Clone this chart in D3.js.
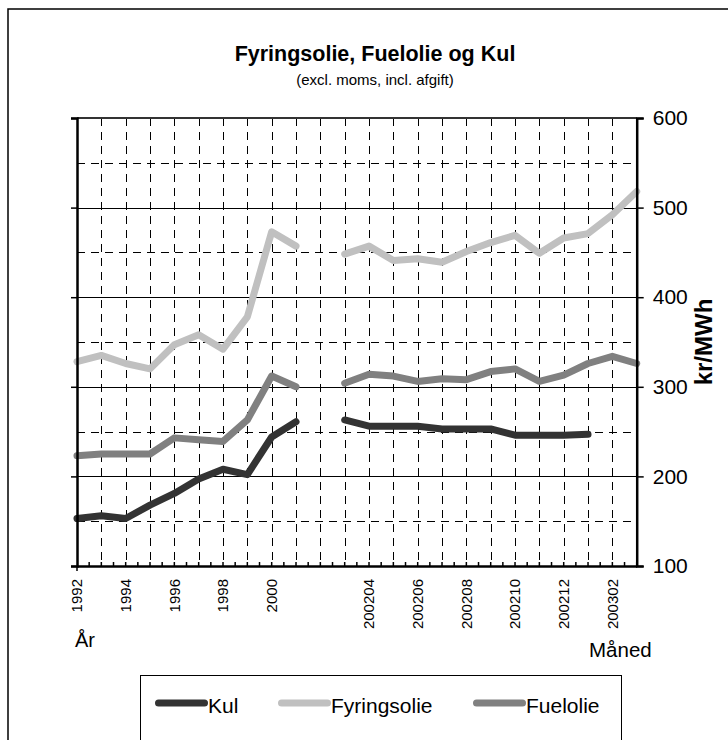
<!DOCTYPE html>
<html>
<head>
<meta charset="utf-8">
<script src="https://cdn.jsdelivr.net/npm/d3@7"></script>
<style>
  html, body { margin: 0; padding: 0; background: #fff; }
  svg { display: block; font-family: "Liberation Sans", Arial, sans-serif; }
</style>
</head>
<body>
<svg id="chart" width="728" height="740"></svg>
<script>
// ---- data ----
const categories = ["1992","1993","1994","1995","1996","1997","1998","1999","2000","2001","",
  "200203","200204","200205","200206","200207","200208","200209","200210","200211","200212","200301","200302","200303"];
const kul =         [153,156,153,168,181,197,208,202,244,261,null,263,256,256,256,253,253,253,246,246,246,247,null,null];
const fyringsolie = [328,335,326,320,347,358,342,378,473,457,null,448,457,441,443,439,451,461,469,449,466,471,492,518];
const fuelolie =    [223,225,225,225,243,241,239,263,312,300,null,304,314,312,306,309,308,317,320,306,313,326,334,326];
const yTicks = [100,200,300,400,500,600];
const yMinorTicks = [150,250,350,450,550];
const series = [
  {name: "Kul", values: kul, color: "#333333"},
  {name: "Fyringsolie", values: fyringsolie, color: "#c0c0c0"},
  {name: "Fuelolie", values: fuelolie, color: "#808080"}
];

(function () {
const svg = d3.select("#chart");
const pL = 77, pR = 636.7, pT = 118, pB = 566;

// outer frame
svg.append("rect").attr("x", 8).attr("y", 9).attr("width", 760).attr("height", 760)
  .attr("fill", "#fff").attr("stroke", "#000").attr("stroke-width", 1.5);

const x = d3.scalePoint().domain(d3.range(categories.length)).range([pL, pR]);
const y = d3.scaleLinear().domain([100, 600]).range([pB, pT]);

// title
svg.append("text").attr("x", 375).attr("y", 61).attr("text-anchor", "middle")
  .attr("font-size", 21.5).attr("font-weight", "bold").text("Fyringsolie, Fuelolie og Kul");
svg.append("text").attr("x", 375).attr("y", 85).attr("text-anchor", "middle")
  .attr("font-size", 15).text("(excl. moms, incl. afgift)");

// grid
const grid = svg.append("g");
grid.selectAll("line.vg").data(d3.range(1, categories.length - 1)).join("line")
  .attr("x1", d => Math.round(x(d)) + 0.5).attr("x2", d => Math.round(x(d)) + 0.5)
  .attr("y1", pT).attr("y2", pB)
  .attr("stroke", "#000").attr("stroke-width", 1).attr("stroke-dasharray", "8,6");
grid.selectAll("line.hm").data(yMinorTicks).join("line")
  .attr("x1", pL).attr("x2", pR)
  .attr("y1", d => Math.round(y(d)) + 0.5).attr("y2", d => Math.round(y(d)) + 0.5)
  .attr("stroke", "#000").attr("stroke-width", 1).attr("stroke-dasharray", "8,6");
grid.selectAll("line.hM").data(yTicks.filter(d => d > 100 && d < 600)).join("line")
  .attr("x1", pL).attr("x2", pR)
  .attr("y1", d => Math.round(y(d)) + 0.5).attr("y2", d => Math.round(y(d)) + 0.5)
  .attr("stroke", "#000").attr("stroke-width", 1);
grid.append("line").attr("x1", pL).attr("x2", pR).attr("y1", y(600)).attr("y2", y(600))
  .attr("stroke", "#333").attr("stroke-width", 2);

// lines
const line = d3.line().defined(d => d.v != null).x(d => x(d.i)).y(d => y(d.v));
svg.append("g").selectAll("path").data(series).join("path")
  .attr("d", s => line(s.values.map((v, i) => ({i, v}))))
  .attr("fill", "none").attr("stroke", s => s.color).attr("stroke-width", 7)
  .attr("stroke-linejoin", "round").attr("stroke-linecap", "round");

// left axis (no labels)
const la = svg.append("g").attr("transform", `translate(${pL},0)`)
  .call(d3.axisLeft(y).tickValues(yTicks).tickSize(6).tickFormat(""));
la.select(".domain").attr("stroke-width", 2.5);
la.selectAll(".tick line").attr("stroke-width", 1.5);

// right axis
const ra = svg.append("g").attr("transform", `translate(${pR},0)`)
  .call(d3.axisRight(y).tickValues(yTicks).tickSize(7).tickPadding(9));
ra.select(".domain").attr("stroke-width", 2.5);
ra.selectAll(".tick line").attr("stroke-width", 1.5);
ra.selectAll(".tick text").attr("font-size", 21).attr("font-family", "Liberation Sans, Arial, sans-serif").attr("fill", "#000");

// bottom axis
const halfSteps = d3.range(0, categories.length - 0.5, 0.5).filter(v => v > 0);
const ba = svg.append("g").attr("transform", `translate(0,${pB})`)
  .call(d3.axisBottom(x).tickSize(0).tickFormat(""));
ba.select(".domain").attr("stroke-width", 2.5);
const step = x.step();
ba.selectAll("line.mt").data(halfSteps).join("line")
  .attr("x1", d => pL + d * step).attr("x2", d => pL + d * step)
  .attr("y1", -4).attr("y2", 0).attr("stroke", "#000").attr("stroke-width", 1.5);
ba.append("line").attr("x1", pL).attr("x2", pL).attr("y1", 0).attr("y2", 5)
  .attr("stroke", "#000").attr("stroke-width", 1.5);
svg.append("g").selectAll("text").data(categories.map((c, i) => ({c, i})).filter(d => d.i % 2 === 0 && d.c !== ""))
  .join("text")
  .attr("transform", d => `translate(${x(d.i)},579) rotate(-90)`)
  .attr("text-anchor", "end").attr("dy", "0.35em").attr("font-size", 15).text(d => d.c);

// axis titles
svg.append("text").attr("x", 75).attr("y", 647).attr("font-size", 20).text("År");
svg.append("text").attr("x", 589).attr("y", 657).attr("font-size", 20.5).text("Måned");
svg.append("text").attr("transform", "translate(712,342) rotate(-90)").attr("text-anchor", "middle")
  .attr("font-size", 24).attr("font-weight", "bold").text("kr/MWh");

// legend
svg.append("rect").attr("x", 140.5).attr("y", 675.5).attr("width", 481).attr("height", 80)
  .attr("fill", "#fff").attr("stroke", "#000").attr("stroke-width", 1);
const legX = [155, 278, 473];
const lg = svg.append("g").selectAll("g").data(series).join("g")
  .attr("transform", (d, i) => `translate(${legX[i]},703)`);
lg.append("line").attr("x1", 3.5).attr("x2", 49.5).attr("y1", 0).attr("y2", 0)
  .attr("stroke", d => d.color).attr("stroke-width", 7).attr("stroke-linecap", "round");
lg.append("text").attr("x", 53).attr("y", 10).attr("font-size", 21).text(d => d.name);
})();
</script>
</body>
</html>
